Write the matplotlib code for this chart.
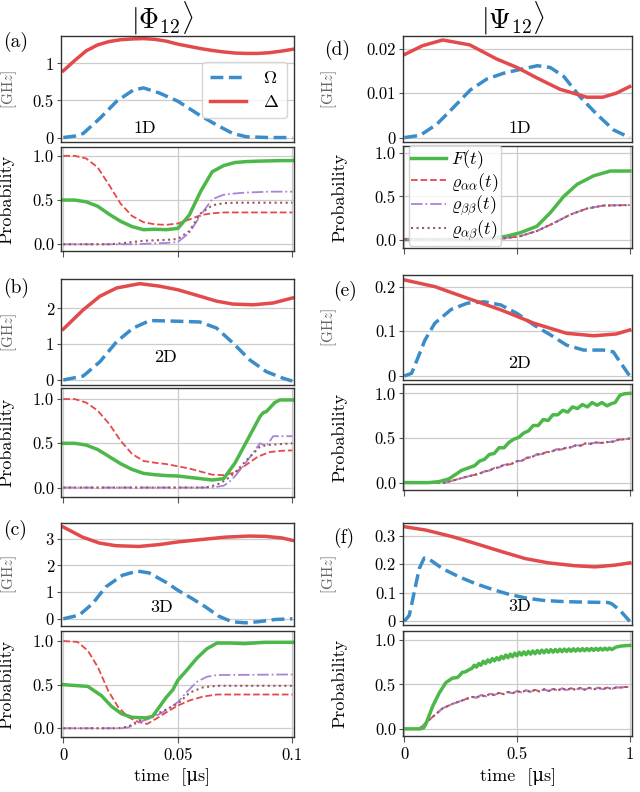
import numpy as np
import matplotlib
matplotlib.use("Agg")
import matplotlib.pyplot as plt

plt.rcParams['font.family'] = ['cmr10', 'DejaVu Serif']
plt.rcParams['mathtext.fontset'] = 'cm'
plt.rcParams['axes.unicode_minus'] = False
plt.rcParams['axes.formatter.use_mathtext'] = True

# colours
col_omega = '#3a8dc9'
col_delta = '#e34a4c'
col_F = '#4db84a'
col_aa = '#e8474a'
col_bb = '#a884d8'
col_ab = '#9c5560'

# ---------------- data: left column (|Phi_12>) ----------------
# (a) 1D pulses
a_t_omega = [0, 0.005, 0.0087, 0.016, 0.0233, 0.0305, 0.035, 0.042, 0.05, 0.0596, 0.0669, 0.074, 0.08, 0.09, 0.1]
a_omega = [0, 0.02, 0.055, 0.26, 0.49, 0.64, 0.67, 0.6, 0.49, 0.3, 0.17, 0.055, 0.01, 0, 0]
a_t_delta = [0, 0.005, 0.01, 0.015, 0.02, 0.025, 0.03, 0.035, 0.04, 0.045, 0.05, 0.055, 0.06, 0.065,
             0.07, 0.075, 0.08, 0.085, 0.09, 0.095, 0.1]
a_delta = [0.9, 1.04, 1.17, 1.25, 1.295, 1.32, 1.33, 1.335, 1.325, 1.3, 1.26, 1.23, 1.2, 1.175,
           1.155, 1.14, 1.135, 1.135, 1.145, 1.165, 1.19]
# (a) 1D probabilities
a_t = [0, 0.005, 0.01, 0.015, 0.02, 0.025, 0.03, 0.035, 0.04, 0.045, 0.05, 0.055, 0.06, 0.065,
       0.07, 0.075, 0.08, 0.085, 0.09, 0.095, 0.1]
a_F = [0.5, 0.5, 0.48, 0.43, 0.34, 0.26, 0.2, 0.165, 0.17, 0.165, 0.18, 0.33, 0.6, 0.82,
       0.89, 0.925, 0.935, 0.94, 0.943, 0.946, 0.947]
a_aa = [1.0, 1.0, 0.97, 0.87, 0.67, 0.46, 0.32, 0.25, 0.225, 0.22, 0.235, 0.28, 0.33, 0.35,
        0.36, 0.36, 0.36, 0.36, 0.36, 0.36, 0.36]
a_bb = [0, 0, 0, 0, 0, 0, 0, 0.005, 0.01, 0.015, 0.025, 0.13, 0.33, 0.51,
        0.56, 0.575, 0.585, 0.59, 0.595, 0.595, 0.595]
a_ab = [0, 0, 0, 0, 0, 0.01, 0.025, 0.04, 0.045, 0.05, 0.06, 0.15, 0.35, 0.44,
        0.465, 0.47, 0.47, 0.47, 0.47, 0.47, 0.47]

# (b) 2D pulses
b_t_omega = [0, 0.0087, 0.016, 0.0233, 0.0305, 0.0378, 0.05, 0.0596, 0.0669, 0.0741, 0.0814, 0.0887, 0.0959, 0.1]
b_omega = [0, 0.11, 0.51, 1.07, 1.45, 1.66, 1.64, 1.62, 1.45, 1.03, 0.56, 0.23, 0.05, -0.03]
b_t_delta = [0, 0.0087, 0.016, 0.0233, 0.0334, 0.042, 0.05, 0.0596, 0.067, 0.074, 0.083, 0.0916, 0.1]
b_delta = [1.42, 1.96, 2.34, 2.57, 2.69, 2.62, 2.52, 2.34, 2.2, 2.12, 2.1, 2.15, 2.29]
# (b) 2D probabilities
b_t = [0, 0.005, 0.01, 0.015, 0.02, 0.025, 0.03, 0.035, 0.04, 0.045, 0.05, 0.055, 0.06, 0.065,
       0.07, 0.075, 0.08, 0.085, 0.09, 0.095, 0.1]
b_aa = [1.0, 1.0, 0.96, 0.87, 0.72, 0.53, 0.38, 0.3, 0.28, 0.265, 0.24, 0.215, 0.18, 0.145,
        0.14, 0.17, 0.26, 0.35, 0.4, 0.415, 0.42]
b_t_F = [0, 0.005, 0.01, 0.015, 0.02, 0.025, 0.03, 0.035, 0.04, 0.045, 0.05, 0.055, 0.06, 0.065,
         0.07, 0.075, 0.08, 0.0858, 0.0872, 0.0887, 0.0923, 0.0945, 0.1]
b_F = [0.5, 0.5, 0.48, 0.43, 0.35, 0.27, 0.205, 0.16, 0.145, 0.135, 0.13, 0.115, 0.1, 0.085,
       0.1, 0.28, 0.52, 0.8, 0.845, 0.86, 0.96, 0.99, 0.99]
b_t_bb = [0, 0.065, 0.07, 0.0727, 0.075, 0.0785, 0.0828, 0.0858, 0.0887, 0.0916, 0.1]
b_bb = [0, 0, 0.02, 0.07, 0.13, 0.24, 0.39, 0.5, 0.47, 0.58, 0.58]
b_t_ab = [0, 0.062, 0.0669, 0.0712, 0.075, 0.08, 0.0858, 0.0887, 0.1]
b_ab = [0, 0, 0.03, 0.09, 0.17, 0.31, 0.46, 0.48, 0.5]

# (c) 3D pulses
c_t_omega = [0, 0.007, 0.0128, 0.0186, 0.0258, 0.0323, 0.0374, 0.0446, 0.05, 0.0562, 0.062, 0.0678,
             0.0736, 0.0794, 0.0852, 0.0925, 0.1]
c_omega = [0, 0.14, 0.57, 1.2, 1.63, 1.79, 1.72, 1.38, 1.07, 0.76, 0.45, 0.1,
           -0.11, -0.15, -0.11, -0.025, 0]
c_t_delta = [0, 0.0084, 0.0157, 0.0229, 0.033, 0.0417, 0.05, 0.059, 0.0707, 0.0809, 0.0881, 0.0954, 0.1]
c_delta = [3.44, 3.06, 2.84, 2.74, 2.71, 2.78, 2.88, 2.96, 3.06, 3.1, 3.09, 3.03, 2.94]
# (c) 3D probabilities
c_t_aa = [0, 0.0062, 0.0107, 0.0151, 0.0196, 0.024, 0.0285, 0.0329, 0.0366, 0.0404, 0.0448, 0.05,
          0.0552, 0.0611, 0.0671, 0.1]
c_aa = [1.0, 0.99, 0.89, 0.7, 0.43, 0.24, 0.126, 0.07, 0.05, 0.107, 0.18, 0.26,
        0.32, 0.364, 0.387, 0.387]
c_t_F = [0, 0.0107, 0.0166, 0.0211, 0.0255, 0.03, 0.0359, 0.0389, 0.0418, 0.0448, 0.0478, 0.05,
         0.0537, 0.0582, 0.0626, 0.0671, 0.073, 0.0789, 0.0878, 0.1]
c_F = [0.5, 0.48, 0.375, 0.25, 0.165, 0.126, 0.119, 0.134, 0.24, 0.35, 0.44, 0.55,
       0.66, 0.8, 0.91, 0.977, 0.977, 0.97, 0.985, 0.985]
c_t_bb = [0, 0.0255, 0.0285, 0.0329, 0.0374, 0.0433, 0.05, 0.0537, 0.0582, 0.0626, 0.0671, 0.1]
c_bb = [0, 0, 0.01, 0.07, 0.107, 0.18, 0.3, 0.41, 0.53, 0.59, 0.61, 0.617]
c_t_ab = [0, 0.024, 0.0285, 0.0329, 0.0374, 0.0433, 0.05, 0.0552, 0.0611, 0.0671, 0.1]
c_ab = [0, 0, 0.02, 0.088, 0.126, 0.195, 0.28, 0.41, 0.47, 0.487, 0.487]

# ---------------- data: right column (|Psi_12>) ----------------
# (d) 1D pulses
d_t_omega = [0, 0.07, 0.144, 0.218, 0.292, 0.366, 0.44, 0.5, 0.59, 0.647, 0.707, 0.781, 0.855, 0.929, 1.0]
d_omega = [0, 0.0005, 0.003, 0.0068, 0.0107, 0.0132, 0.0145, 0.0152, 0.0162, 0.0158, 0.0138,
           0.0091, 0.0052, 0.0017, 0]
d_t_delta = [0, 0.08, 0.17, 0.29, 0.41, 0.5, 0.59, 0.69, 0.81, 0.88, 0.94, 1.0]
d_delta = [0.0187, 0.0207, 0.022, 0.0209, 0.0177, 0.0158, 0.0134, 0.0109, 0.0091, 0.0091, 0.01, 0.0115]
# (d) 1D probabilities
d_t_F = [0, 0.3, 0.366, 0.455, 0.514, 0.588, 0.647, 0.707, 0.766, 0.84, 0.914, 1.0]
d_F = [0, 0, 0.01, 0.04, 0.08, 0.155, 0.31, 0.5, 0.64, 0.74, 0.795, 0.795]
d_t_rho = [0, 0.4, 0.514, 0.588, 0.662, 0.736, 0.81, 0.884, 1.0]
d_aa = [0, 0, 0.04, 0.1, 0.19, 0.29, 0.36, 0.395, 0.4]
d_bb = [0, 0, 0.04, 0.1, 0.19, 0.29, 0.36, 0.396, 0.401]
d_ab = [0, 0, 0.04, 0.1, 0.19, 0.29, 0.36, 0.395, 0.4]

# (e) 2D pulses
e_t_omega = [0, 0.032, 0.062, 0.091, 0.135, 0.208, 0.28, 0.355, 0.428, 0.5, 0.575, 0.648, 0.72,
             0.795, 0.883, 0.927, 0.956, 1.0]
e_omega = [0, 0.006, 0.043, 0.08, 0.118, 0.149, 0.163, 0.166, 0.159, 0.14, 0.114, 0.092, 0.069,
           0.058, 0.058, 0.054, 0.032, 0]
e_t_delta = [0, 0.135, 0.28, 0.428, 0.575, 0.72, 0.84, 0.94, 1.0]
e_delta = [0.215, 0.2, 0.174, 0.148, 0.118, 0.0955, 0.09, 0.094, 0.103]
# (e) 2D probabilities
e_t_F = [0, 0.109, 0.152, 0.196, 0.225, 0.254, 0.283, 0.312, 0.333, 0.355, 0.377, 0.399, 0.42,
         0.442, 0.464, 0.486, 0.507, 0.529, 0.551, 0.572, 0.594, 0.616, 0.638, 0.659, 0.681, 0.703,
         0.725, 0.746, 0.768, 0.79, 0.812, 0.833, 0.855, 0.877, 0.899, 0.92, 0.935, 0.957, 0.978, 1.0]
e_F = [0, 0, 0.01, 0.04, 0.087, 0.137, 0.163, 0.19, 0.24, 0.26, 0.315, 0.327, 0.39,
       0.39, 0.45, 0.487, 0.506, 0.555, 0.58, 0.64, 0.64, 0.707, 0.696, 0.76, 0.76, 0.81,
       0.79, 0.848, 0.83, 0.875, 0.848, 0.897, 0.867, 0.897, 0.86, 0.886, 0.897, 0.98, 0.996, 1.0]
e_t_rho = [0, 0.181, 0.225, 0.268, 0.312, 0.333, 0.355, 0.377, 0.399, 0.42, 0.442, 0.471, 0.5,
           0.522, 0.543, 0.565, 0.587, 0.609, 0.63, 0.652, 0.674, 0.696, 0.717, 0.739, 0.761,
           0.783, 0.804, 0.826, 0.848, 0.877, 0.906, 0.928, 0.949, 0.975, 1.0]
e_aa = [0, 0, 0.03, 0.06, 0.087, 0.1, 0.125, 0.135, 0.163, 0.17, 0.2, 0.205, 0.24,
        0.245, 0.278, 0.285, 0.316, 0.318, 0.342, 0.345, 0.373, 0.37, 0.39, 0.395, 0.418,
        0.415, 0.44, 0.435, 0.449, 0.445, 0.456, 0.46, 0.48, 0.485, 0.494]

# (f) 3D pulses
f_t_omega = [0, 0.022, 0.044, 0.066, 0.088, 0.11, 0.169, 0.243, 0.316, 0.39, 0.463, 0.537, 0.61,
             0.684, 0.757, 0.904, 0.919, 0.956, 1.0]
f_omega = [0, 0.021, 0.103, 0.185, 0.222, 0.218, 0.185, 0.156, 0.132, 0.112, 0.095, 0.082, 0.074,
           0.07, 0.068, 0.066, 0.062, 0.039, 0]
f_t_delta = [0, 0.096, 0.213, 0.316, 0.434, 0.537, 0.64, 0.757, 0.846, 0.934, 1.0]
f_delta = [0.332, 0.32, 0.297, 0.273, 0.244, 0.22, 0.205, 0.195, 0.191, 0.197, 0.205]
# (f) 3D probabilities
f_t_F = [0, 0.07, 0.085, 0.096, 0.125, 0.154, 0.184, 0.213, 0.235, 0.245, 0.257, 0.27, 0.287, 0.3,
         0.31, 0.32, 0.33, 0.34, 0.35, 0.36, 0.37, 0.38, 0.39, 0.40, 0.41, 0.42, 0.43, 0.44,
         0.45, 0.46, 0.47, 0.48, 0.49, 0.50, 0.51, 0.52, 0.53, 0.54, 0.55, 0.56, 0.57, 0.58,
         0.59, 0.60, 0.61, 0.62, 0.63, 0.64, 0.65, 0.66, 0.67, 0.68, 0.69, 0.70, 0.71, 0.72,
         0.73, 0.74, 0.75, 0.76, 0.77, 0.78, 0.79, 0.80, 0.81, 0.82, 0.83, 0.84, 0.85, 0.86,
         0.87, 0.88, 0.89, 0.90, 0.91, 0.92, 0.94, 0.96, 0.98, 1.0]
f_F = [0, 0, 0.01, 0.058, 0.25, 0.40, 0.52, 0.57, 0.577, 0.6, 0.635, 0.64, 0.665, 0.68,
       0.715, 0.695, 0.735, 0.715, 0.76, 0.735, 0.775, 0.75, 0.79, 0.765, 0.8, 0.775, 0.815, 0.79,
       0.83, 0.8, 0.84, 0.81, 0.85, 0.82, 0.86, 0.83, 0.865, 0.835, 0.87, 0.84, 0.875, 0.845,
       0.88, 0.85, 0.885, 0.855, 0.888, 0.86, 0.89, 0.862, 0.892, 0.865, 0.895, 0.868, 0.897, 0.87,
       0.898, 0.872, 0.9, 0.874, 0.9, 0.876, 0.902, 0.878, 0.903, 0.88, 0.904, 0.882, 0.905, 0.884,
       0.906, 0.886, 0.907, 0.888, 0.908, 0.892, 0.92, 0.93, 0.935, 0.938]
f_t_rho = [0, 0.06, 0.074, 0.11, 0.169, 0.213, 0.257, 0.3, 0.32, 0.34, 0.36, 0.38, 0.40, 0.42,
           0.44, 0.46, 0.48, 0.50, 0.52, 0.54, 0.56, 0.58, 0.60, 0.62, 0.64, 0.66, 0.68, 0.70,
           0.72, 0.74, 0.76, 0.78, 0.80, 0.82, 0.84, 0.86, 0.88, 0.90, 0.92, 0.94, 0.96, 0.98, 1.0]
f_aa = [0, 0, 0.02, 0.1, 0.23, 0.28, 0.32, 0.36, 0.35, 0.38, 0.365, 0.395, 0.38, 0.405,
        0.39, 0.415, 0.4, 0.425, 0.41, 0.435, 0.415, 0.44, 0.42, 0.445, 0.425, 0.45, 0.43, 0.455,
        0.435, 0.458, 0.437, 0.46, 0.44, 0.462, 0.442, 0.464, 0.444, 0.465, 0.448, 0.466, 0.465, 0.47, 0.473]

# ---------------- figure ----------------
fig = plt.figure(figsize=(6.4, 7.92), dpi=100)


def box(x0, x1, top, bot):
    return [x0 / 640, 1 - bot / 792, (x1 - x0) / 640, (bot - top) / 792]


def style(ax, xlim, ylim, yticks, ylabels, prob):
    ax.set_xlim(xlim)
    ax.set_ylim(ylim)
    ax.set_yticks(yticks)
    ax.set_yticklabels(ylabels, fontsize=12)
    for s in ax.spines.values():
        s.set_color('#333333')
        s.set_linewidth(1.0)
    ax.tick_params(axis='y', length=3, width=0.8, color='#555555', pad=2)
    ax.grid(True, axis='y', color='#cccccc', lw=0.9)
    ax.set_axisbelow(True)
    if prob:
        ax.grid(True, axis='x', color='#cccccc', lw=0.9)
        ax.tick_params(axis='x', length=4, width=0.8, color='#555555')
    else:
        ax.tick_params(axis='x', length=0)
        ax.set_xticks([])


def pulses(ax, t_om, om, t_de, de):
    ax.plot(t_om, om, ls='--', color=col_omega, lw=2.5, label=r'$\Omega$')
    ax.plot(t_de, de, ls='-', color=col_delta, lw=2.5, label=r'$\Delta$')


left_x = (61, 294)
right_x = (403, 632)
lx = (-0.001, 0.1007)
rx = (-0.006, 1.01)
prob_ticks = [0, 0.5, 1.0]
prob_labels = ['0.0', '0.5', '1.0']

# left column
ax_a = fig.add_axes(box(*left_x, 36, 142))
pulses(ax_a, a_t_omega, a_omega, a_t_delta, a_delta)
style(ax_a, lx, (-0.06, 1.37), [0, 0.5, 1], ['0', '0.5', '1'], False)
leg = ax_a.legend(loc='upper right', bbox_to_anchor=(0.985, 0.79), fontsize=13, handlelength=2.0,
                  frameon=True, fancybox=True, edgecolor='#cccccc', borderpad=0.45, labelspacing=0.45,
                  handletextpad=0.9, borderaxespad=0.2)
ax_a.text(0.36, 0.13, '1D', transform=ax_a.transAxes, ha='center', va='center', fontsize=13)

ax_ap = fig.add_axes(box(*left_x, 147, 251))
ax_ap.plot(a_t, a_aa, ls='--', color=col_aa, lw=1.3)
ax_ap.plot(a_t, a_bb, ls='-.', color=col_bb, lw=1.3)
ax_ap.plot(a_t, a_ab, ls=':', color=col_ab, lw=1.5)
ax_ap.plot(a_t, a_F, ls='-', color=col_F, lw=2.5)
style(ax_ap, lx, (-0.076, 1.10), prob_ticks, prob_labels, True)

ax_b = fig.add_axes(box(*left_x, 279, 385))
pulses(ax_b, b_t_omega, b_omega, b_t_delta, b_delta)
style(ax_b, lx, (-0.14, 2.82), [0, 1, 2], ['0', '1', '2'], False)
ax_b.text(0.45, 0.26, '2D', transform=ax_b.transAxes, ha='center', va='center', fontsize=13)

ax_bp = fig.add_axes(box(*left_x, 388, 497))
ax_bp.plot(b_t, b_aa, ls='--', color=col_aa, lw=1.3)
ax_bp.plot(b_t_bb, b_bb, ls='-.', color=col_bb, lw=1.3)
ax_bp.plot(b_t_ab, b_ab, ls=':', color=col_ab, lw=1.5)
ax_bp.plot(b_t_F, b_F, ls='-', color=col_F, lw=2.5)
style(ax_bp, lx, (-0.107, 1.125), prob_ticks, prob_labels, True)

ax_c = fig.add_axes(box(*left_x, 523, 626))
pulses(ax_c, c_t_omega, c_omega, c_t_delta, c_delta)
style(ax_c, lx, (-0.27, 3.59), [0, 1, 2, 3], ['0', '1', '2', '3'], False)
ax_c.text(0.43, 0.18, '3D', transform=ax_c.transAxes, ha='center', va='center', fontsize=13)

ax_cp = fig.add_axes(box(*left_x, 631, 737))
ax_cp.plot(c_t_aa, c_aa, ls='--', color=col_aa, lw=1.3)
ax_cp.plot(c_t_bb, c_bb, ls='-.', color=col_bb, lw=1.3)
ax_cp.plot(c_t_ab, c_ab, ls=':', color=col_ab, lw=1.5)
ax_cp.plot(c_t_F, c_F, ls='-', color=col_F, lw=2.5)
style(ax_cp, lx, (-0.1, 1.115), prob_ticks, prob_labels, True)

# right column
ax_d = fig.add_axes(box(*right_x, 36, 142))
pulses(ax_d, d_t_omega, d_omega, d_t_delta, d_delta)
style(ax_d, rx, (-0.001, 0.0229), [0, 0.01, 0.02], ['0', '0.01', '0.02'], False)
ax_d.text(0.51, 0.13, '1D', transform=ax_d.transAxes, ha='center', va='center', fontsize=13)

ax_dp = fig.add_axes(box(*right_x, 146, 248))
ax_dp.plot(d_t_F, d_F, ls='-', color=col_F, lw=2.5, label=r'$F(t)$')
ax_dp.plot(d_t_rho, d_aa, ls='--', color=col_aa, lw=1.3, label=r'$\varrho_{\alpha\alpha}(t)$')
ax_dp.plot(d_t_rho, d_bb, ls='-.', color=col_bb, lw=1.3, label=r'$\varrho_{\beta\beta}(t)$')
ax_dp.plot(d_t_rho, d_ab, ls=':', color=col_ab, lw=1.5, label=r'$\varrho_{\alpha\beta}(t)$')
style(ax_dp, rx, (-0.097, 1.085), prob_ticks, prob_labels, True)
ax_dp.legend(loc='upper left', bbox_to_anchor=(0.025, 1.005), fontsize=13, handlelength=1.9,
             frameon=True, fancybox=True, edgecolor='#cccccc', borderpad=0.15, labelspacing=0.0,
             handletextpad=0.3, framealpha=0.85, borderaxespad=0.0)

ax_e = fig.add_axes(box(*right_x, 275, 380))
pulses(ax_e, e_t_omega, e_omega, e_t_delta, e_delta)
style(ax_e, rx, (-0.009, 0.226), [0, 0.1, 0.2], ['0', '0.1', '0.2'], False)
ax_e.text(0.51, 0.16, '2D', transform=ax_e.transAxes, ha='center', va='center', fontsize=13)

ax_ep = fig.add_axes(box(*right_x, 384, 490))
ax_ep.plot(e_t_rho, e_aa, ls='--', color=col_aa, lw=1.3)
ax_ep.plot(e_t_rho, e_aa, ls='-.', color=col_bb, lw=1.3)
ax_ep.plot(e_t_rho, e_aa, ls=':', color=col_ab, lw=1.5)
ax_ep.plot(e_t_F, e_F, ls='-', color=col_F, lw=2.5)
style(ax_ep, rx, (-0.083, 1.105), prob_ticks, prob_labels, True)

ax_f = fig.add_axes(box(*right_x, 523, 625))
pulses(ax_f, f_t_omega, f_omega, f_t_delta, f_delta)
style(ax_f, rx, (-0.013, 0.345), [0, 0.1, 0.2, 0.3], ['0', '0.1', '0.2', '0.3'], False)
ax_f.text(0.51, 0.18, '3D', transform=ax_f.transAxes, ha='center', va='center', fontsize=13)

ax_fp = fig.add_axes(box(*right_x, 631, 736))
ax_fp.plot(f_t_rho, f_aa, ls='--', color=col_aa, lw=1.3)
ax_fp.plot(f_t_rho, f_aa, ls='-.', color=col_bb, lw=1.3)
ax_fp.plot(f_t_rho, f_aa, ls=':', color=col_ab, lw=1.5)
ax_fp.plot(f_t_F, f_F, ls='-', color=col_F, lw=2.5)
style(ax_fp, rx, (-0.08, 1.1), prob_ticks, prob_labels, True)

# x ticks
for ax in (ax_ap, ax_bp, ax_cp):
    ax.set_xticks([0, 0.05, 0.1])
    ax.set_xticklabels([])
for ax in (ax_dp, ax_ep, ax_fp):
    ax.set_xticks([0, 0.5, 1.0])
    ax.set_xticklabels([])
ax_cp.set_xticklabels(['0', '0.05', '0.1'], fontsize=12)
ax_fp.set_xticklabels(['0', '0.5', '1'], fontsize=12)

# y labels
for ax in (ax_a, ax_b, ax_c):
    ax.set_ylabel(r'$[\mathrm{GH}z]$', fontsize=11, color='#666666')
    ax.yaxis.set_label_coords(-0.18, 0.5)
for ax in (ax_ap, ax_bp, ax_cp):
    ax.set_ylabel('Probability', fontsize=13)
    ax.yaxis.set_label_coords(-0.2, 0.5)
for ax in (ax_d, ax_e, ax_f):
    ax.set_ylabel(r'$[\mathrm{GH}z]$', fontsize=11, color='#666666')
    ax.yaxis.set_label_coords(-0.28, 0.5)
for ax in (ax_dp, ax_ep, ax_fp):
    ax.set_ylabel('Probability', fontsize=13)
    ax.yaxis.set_label_coords(-0.245, 0.5)

# titles, panel letters, x labels
fig.text(162 / 640, 1 - 18 / 792, r'$|\Phi_{12}\rangle$', ha='center', va='center', fontsize=20)
fig.text(513 / 640, 1 - 18 / 792, r'$|\Psi_{12}\rangle$', ha='center', va='center', fontsize=20)
for lab, x, y in [('(a)', 3, 42), ('(b)', 3, 288), ('(c)', 3, 530),
                  ('(d)', 324, 50), ('(e)', 333, 291), ('(f)', 333, 538)]:
    fig.text(x / 640, 1 - y / 792, lab, ha='left', va='center', fontsize=14)
fig.text(172 / 640, 1 - 777 / 792, 'time  [μs]', ha='center', va='center', fontsize=13)
fig.text(518 / 640, 1 - 777 / 792, 'time  [μs]', ha='center', va='center', fontsize=13)

fig.savefig('out.png', dpi=100)
